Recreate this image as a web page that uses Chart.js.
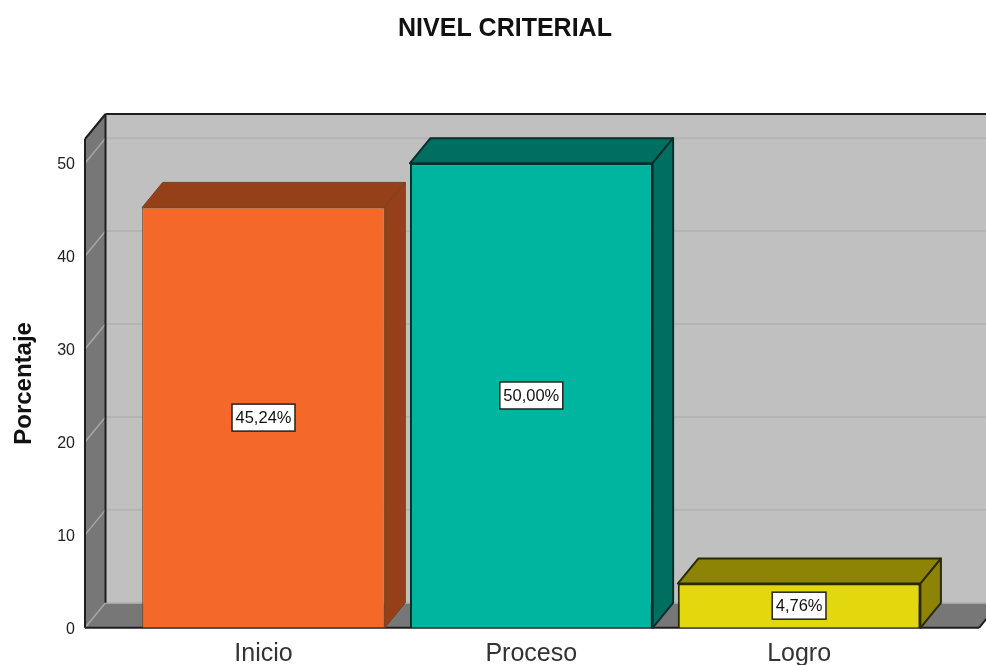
<!DOCTYPE html>
<html>
<head>
<meta charset="utf-8">
<title>NIVEL CRITERIAL</title>
<script src="https://cdn.jsdelivr.net/npm/chart.js@4"></script>
<style>
  html, body { margin: 0; padding: 0; background: #fff; overflow: hidden; height: 665px; }
  canvas { display: block; }
</style>
</head>
<body>
<canvas id="chart" width="1010" height="692"></canvas>
<script>
// Data
const categories = ['Inicio', 'Proceso', 'Logro'];
const percentages = [45.24, 50.00, 4.76];
const valueLabels = ['45,24%', '50,00%', '4,76%'];
const yTickValues = [0, 10, 20, 30, 40, 50];

const frontColors = ['#F4682A', '#00B5A0', '#E3D80E'];
const shadeColors = ['#964019', '#006E60', '#8D8406'];
const edgeColors = ['#7a4020', '#06302B', '#2A2A05'];

const FONT = '"Liberation Sans", Arial, sans-serif';
const DEPTH_X = 20.5;
const DEPTH_Y = 25;
const AXIS_GAP = 44.6; // front axis sits left of the first category band
const FLOOR_EXTRA = 46;

function poly(ctx, points, fill, stroke, lineWidth) {
    ctx.beginPath();
    points.forEach((p, i) => i ? ctx.lineTo(p[0], p[1]) : ctx.moveTo(p[0], p[1]));
    ctx.closePath();
    if (fill) {
        ctx.fillStyle = fill;
        ctx.fill();
    }
    if (stroke) {
        ctx.strokeStyle = stroke;
        ctx.lineWidth = lineWidth || 1;
        ctx.lineJoin = 'round';
        ctx.stroke();
    }
}

function line(ctx, x1, y1, x2, y2, color, width) {
    ctx.beginPath();
    ctx.moveTo(x1, y1);
    ctx.lineTo(x2, y2);
    ctx.strokeStyle = color;
    ctx.lineWidth = width;
    ctx.stroke();
}

// Back wall, side wall, floor and the depth faces of the bars
const box3d = {
    id: 'box3d',
    // the title is centred over the whole figure, not over the plot
    afterLayout(chart) {
        chart.titleBlock.left = 24;
        chart.titleBlock.right = 986;
    },
    beforeDatasetsDraw(chart) {
        const ctx = chart.ctx;
        const area = chart.chartArea;
        const y = chart.scales.y;
        const left = area.left - AXIS_GAP;
        const right = area.right + FLOOR_EXTRA;
        const top = area.top;
        const bottom = area.bottom;

        ctx.save();
        poly(ctx, [[left + DEPTH_X, top - DEPTH_Y], [right + DEPTH_X, top - DEPTH_Y],
            [right + DEPTH_X, bottom - DEPTH_Y], [left + DEPTH_X, bottom - DEPTH_Y]], '#C0C0C0');
        poly(ctx, [[left, top], [left + DEPTH_X, top - DEPTH_Y],
            [left + DEPTH_X, bottom - DEPTH_Y], [left, bottom]], '#777777');
        poly(ctx, [[left, bottom], [left + DEPTH_X, bottom - DEPTH_Y],
            [right + DEPTH_X, bottom - DEPTH_Y], [right, bottom]], '#777777');

        yTickValues.forEach(v => {
            const py = y.getPixelForValue(v);
            line(ctx, left + DEPTH_X, py - DEPTH_Y, right + DEPTH_X, py - DEPTH_Y, '#B4B4B4', 2);
            line(ctx, left, py, left + DEPTH_X, py - DEPTH_Y, '#A6A6A6', 1.5);
        });

        line(ctx, left + DEPTH_X, top - DEPTH_Y, right + DEPTH_X, top - DEPTH_Y, '#1E1E1E', 2);
        line(ctx, left + DEPTH_X, top - DEPTH_Y, left + DEPTH_X, bottom - DEPTH_Y, '#1E1E1E', 2);
        line(ctx, left, top, left + DEPTH_X, top - DEPTH_Y, '#1E1E1E', 2);
        line(ctx, left, top, left, bottom, '#1E1E1E', 2);
        line(ctx, left, bottom, right, bottom, '#1E1E1E', 2);
        line(ctx, right, bottom, right + DEPTH_X, bottom - DEPTH_Y, '#1E1E1E', 2);

        chart.getDatasetMeta(0).data.forEach((bar, i) => {
            const x0 = bar.x - bar.width / 2;
            const x1 = bar.x + bar.width / 2;
            const w = i === 0 ? 1 : 2;
            poly(ctx, [[x0, bar.y], [x0 + DEPTH_X, bar.y - DEPTH_Y], [x1 + DEPTH_X, bar.y - DEPTH_Y], [x1, bar.y]],
                shadeColors[i], edgeColors[i], w);
            poly(ctx, [[x1, bar.y], [x1 + DEPTH_X, bar.y - DEPTH_Y], [x1 + DEPTH_X, bar.base - DEPTH_Y], [x1, bar.base]],
                shadeColors[i], edgeColors[i], w);
        });
        ctx.restore();
    },
    // White value boxes at the middle of each bar
    afterDatasetsDraw(chart) {
        const ctx = chart.ctx;
        ctx.save();
        ctx.font = '16.5px ' + FONT;
        ctx.textAlign = 'center';
        ctx.textBaseline = 'middle';
        chart.getDatasetMeta(0).data.forEach((bar, i) => {
            const cy = (bar.y + bar.base) / 2;
            const w = ctx.measureText(valueLabels[i]).width + 7;
            const h = 27;
            ctx.fillStyle = '#fff';
            ctx.fillRect(bar.x - w / 2, cy - h / 2, w, h);
            ctx.strokeStyle = '#222';
            ctx.lineWidth = 1.5;
            ctx.strokeRect(bar.x - w / 2, cy - h / 2, w, h);
            ctx.fillStyle = '#111';
            ctx.fillText(valueLabels[i], bar.x, cy + 1);
        });
        ctx.restore();
    }
};

new Chart(document.getElementById('chart'), {
    type: 'bar',
    data: {
        labels: categories,
        datasets: [{
            data: percentages,
            backgroundColor: frontColors,
            borderColor: edgeColors,
            borderWidth: [1, 2, 2],
            barPercentage: 0.906,
            categoryPercentage: 1
        }]
    },
    options: {
        responsive: false,
        animation: false,
        layout: { padding: { right: 77 } },
        plugins: {
            legend: { display: false },
            tooltip: { enabled: false },
            title: {
                display: true,
                text: 'NIVEL CRITERIAL',
                color: '#111',
                font: { family: FONT, size: 25, weight: 'bold' },
                padding: { top: 14, bottom: 95 }
            }
        },
        scales: {
            x: {
                grid: { display: false, drawTicks: false },
                border: { display: false },
                ticks: {
                    color: '#333',
                    padding: 11,
                    maxRotation: 0,
                    font: { family: FONT, size: 25 }
                }
            },
            y: {
                min: 0,
                max: 52.6,
                grid: { display: false, drawTicks: false },
                border: { display: false },
                afterBuildTicks(axis) { axis.ticks = yTickValues.map(v => ({ value: v })); },
                afterFit(axis) { axis.width = 129.6; },
                title: {
                    display: true,
                    text: 'Porcentaje',
                    color: '#111',
                    font: { family: FONT, size: 24, weight: 'bold' },
                    padding: { top: 10, bottom: 0 }
                },
                ticks: {
                    color: '#222',
                    padding: AXIS_GAP + 10,
                    labelOffset: 1.5,
                    font: { family: FONT, size: 16 }
                }
            }
        }
    },
    plugins: [box3d]
});
</script>
</body>
</html>
